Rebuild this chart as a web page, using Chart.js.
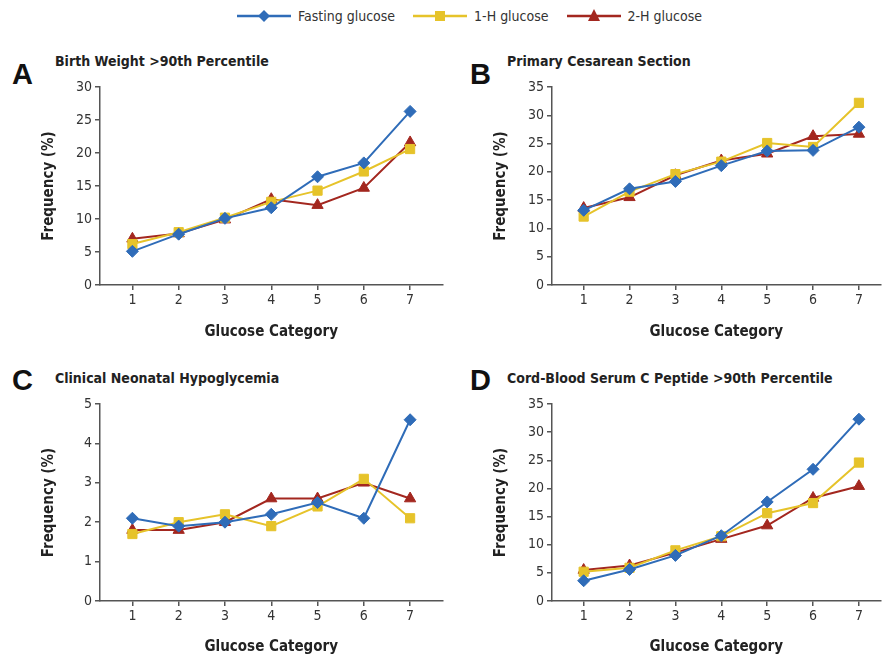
<!DOCTYPE html>
<html>
<head>
<meta charset="utf-8">
<script src="https://cdn.jsdelivr.net/npm/chart.js@4.4.1/dist/chart.umd.min.js"></script>
<style>
  body { margin: 0; background: #fff; width: 888px; height: 660px; overflow: hidden; position: relative;
         font-family: "DejaVu Sans Condensed", "Open Sans", sans-serif; color: #222; }
  .panel { position: absolute; }
  .letter { position: absolute; font-family: "Liberation Sans", Arial, sans-serif; font-weight: bold; font-size: 29px; color: #111; }
  .title { position: absolute; font-weight: bold; font-size: 14px; color: #222; white-space: nowrap; }
  #legend { position: absolute; top: 6px; left: 237px; display: flex; align-items: center; font-size: 14px; color: #333; }
  #legend .item { display: flex; align-items: center; margin-right: 18px; }
  #legend svg { margin-right: 7px; }
</style>
</head>
<body>
<div id="legend"></div>

<div class="letter" style="left:12px;top:58px">A</div>
<div class="title" style="left:55px;top:53px">Birth Weight &gt;90th Percentile</div>
<div class="letter" style="left:470px;top:58px">B</div>
<div class="title" style="left:507px;top:53px">Primary Cesarean Section</div>
<div class="letter" style="left:12px;top:364px">C</div>
<div class="title" style="left:55px;top:370px">Clinical Neonatal Hypoglycemia</div>
<div class="letter" style="left:470px;top:364px">D</div>
<div class="title" style="left:507px;top:370px">Cord-Blood Serum C Peptide &gt;90th Percentile</div>

<canvas id="chartA" class="panel" style="left:40px;top:75px" width="410" height="270"></canvas>
<canvas id="chartB" class="panel" style="left:492px;top:75px" width="396" height="270"></canvas>
<canvas id="chartC" class="panel" style="left:40px;top:392px" width="410" height="268"></canvas>
<canvas id="chartD" class="panel" style="left:492px;top:392px" width="396" height="268"></canvas>

<script>
// --- donnees ---
const categories = [1, 2, 3, 4, 5, 6, 7];
const seriesNames = ["Fasting glucose", "1-H glucose", "2-H glucose"];

const birthWeightFasting = [5.1, 7.7, 10.1, 11.7, 16.4, 18.5, 26.3];
const birthWeight1H      = [6.2, 8.0, 10.2, 12.6, 14.3, 17.2, 20.6];
const birthWeight2H      = [7.0, 7.8, 9.9, 13.0, 12.1, 14.7, 21.6];

const cesareanFasting = [13.2, 17.0, 18.3, 21.1, 23.7, 23.8, 27.9];
const cesarean1H      = [12.1, 16.5, 19.6, 21.8, 25.1, 24.4, 32.2];
const cesarean2H      = [13.6, 15.5, 19.4, 22.0, 23.2, 26.3, 26.7];

const hypoFasting = [2.1, 1.9, 2.0, 2.2, 2.5, 2.1, 4.6];
const hypo1H      = [1.7, 2.0, 2.2, 1.9, 2.4, 3.1, 2.1];
const hypo2H      = [1.8, 1.8, 2.0, 2.6, 2.6, 3.0, 2.6];

const peptideFasting = [3.6, 5.6, 8.1, 11.6, 17.6, 23.4, 32.3];
const peptide1H      = [5.2, 5.9, 9.0, 11.5, 15.6, 17.4, 24.6];
const peptide2H      = [5.5, 6.3, 8.6, 11.0, 13.4, 18.3, 20.4];

const yTicksA = { max: 30, step: 5 };
const yTicksB = { max: 35, step: 5 };
const yTicksC = { max: 5, step: 1 };
const yTicksD = { max: 35, step: 5 };

// --- styles ---
const colors = ["#2f6cb8", "#e6c32a", "#a3271f"];
const markers = ["rectRot", "rect", "triangle"];
const markerSizes = [6, 6.5, 6.5];
const FONT = "'DejaVu Sans Condensed', 'Open Sans', sans-serif";
const AXIS = "#555";

// legende HTML (ligne + marqueur)
function markerSvg(i) {
    const c = colors[i];
    let shape;
    if (i === 0) shape = `<polygon points="27,4 33,10 27,16 21,10" fill="${c}"/>`;
    else if (i === 1) shape = `<rect x="22" y="5" width="10" height="10" fill="${c}"/>`;
    else shape = `<polygon points="27,3 33,15 21,15" fill="${c}"/>`;
    return `<svg width="54" height="20"><line x1="0" y1="10" x2="54" y2="10" stroke="${c}" stroke-width="2.5"/>${shape}</svg>`;
}
document.getElementById("legend").innerHTML = seriesNames.map((n, i) =>
    `<div class="item">${markerSvg(i)}<span>${n}</span></div>`).join("");

function makeChart(id, values, yTicks, chartRight, xMin, xMax) {
    const datasets = values.map((arr, i) => ({
        label: seriesNames[i],
        data: categories.map((c, k) => ({ x: c, y: arr[k] })),
        borderColor: colors[i],
        backgroundColor: colors[i],
        borderWidth: 2,
        pointStyle: markers[i],
        pointRadius: markerSizes[i],
        pointBorderWidth: 1,
        tension: 0
    }));

    return new Chart(document.getElementById(id), {
        type: "line",
        data: { datasets },
        options: {
            responsive: false,
            animation: false,
            layout: { padding: { top: 12, right: chartRight, left: 0, bottom: 0 } },
            plugins: { legend: { display: false }, tooltip: { enabled: false } },
            scales: {
                x: {
                    type: "linear",
                    min: xMin,
                    max: xMax,
                    afterFit: (s) => { s.height = s.chart.height - (id === "chartC" || id === "chartD" ? 197 : 198) - 12; },
                    border: { color: AXIS, width: 1.5 },
                    grid: { display: true, drawOnChartArea: false, drawTicks: true, tickLength: 5, color: AXIS, lineWidth: 1.5 },
                    ticks: {
                        stepSize: 1, includeBounds: false, color: "#333", padding: 2,
                        font: { family: FONT, size: 14 }
                    },
                    title: {
                        display: true, text: "Glucose Category", color: "#222",
                        font: { family: FONT, size: 15, weight: "bold" }, padding: { top: 10 }
                    }
                },
                y: {
                    min: 0,
                    max: yTicks.max,
                    afterFit: (s) => { s.width = 60; },
                    border: { color: AXIS, width: 1.5 },
                    grid: { display: true, drawOnChartArea: false, drawTicks: true, tickLength: 5, color: AXIS, lineWidth: 1.5 },
                    ticks: {
                        stepSize: yTicks.step, color: "#333", padding: 3,
                        font: { family: FONT, size: 14 }
                    },
                    title: {
                        display: true, text: "Frequency (%)", color: "#222",
                        font: { family: FONT, size: 15, weight: "bold" }, padding: { top: 0, bottom: 4 }
                    }
                }
            }
        }
    });
}

makeChart("chartA", [birthWeightFasting, birthWeight1H, birthWeight2H], yTicksA, 4, 0.3, 7.7);
makeChart("chartB", [cesareanFasting, cesarean1H, cesarean2H], yTicksB, 2, 0.31, 7.47);
makeChart("chartC", [hypoFasting, hypo1H, hypo2H], yTicksC, 4, 0.3, 7.7);
makeChart("chartD", [peptideFasting, peptide1H, peptide2H], yTicksD, 2, 0.31, 7.47);
</script>
</body>
</html>
